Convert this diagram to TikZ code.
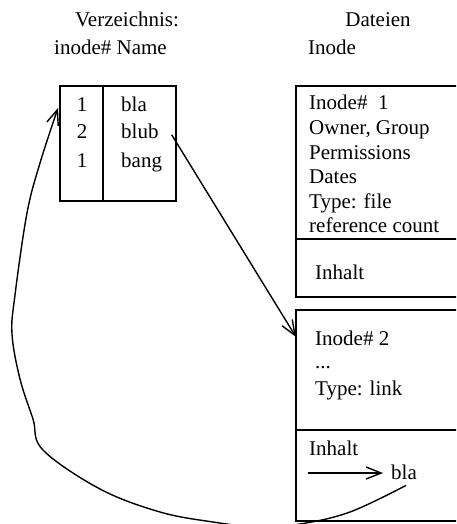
\documentclass[tikz,border=0pt]{standalone}
\usepackage{fontspec}
\setmainfont{Liberation Serif}
\usetikzlibrary{arrows.meta}

\tikzset{
  linie/.style={black,line width=1.4pt},
  pfeil/.style={linie,-{Straight Barb[length=15pt,width=12pt]}},
  txt/.style={inner sep=0pt,anchor=base west},
  zahl/.style={inner sep=0pt,anchor=base},
}

\begin{document}
\begin{tikzpicture}[x=1pt,y=-1pt,font=\fontsize{21}{24.5}\selectfont]
                    \clip (0,0) rectangle (456,524);

                    % Verzeichnis links
                    \node[zahl] (verz) at (127,27){Verzeichnis:};
                    \node[txt] (verzkopf) at (54,55){inode\# Name};
                    \draw[linie] (60,86) rectangle (176,201);
                    \draw[linie] (103,86) -- (103,201);
                    \node[zahl] (nr1) at (82,111){1};
                    \node[zahl] (nr2) at (82,139){2};
                    \node[zahl] (nr3) at (82,167){1};
                    \node[txt] (name1) at (121,111){bla};
                    \node[txt] (name2) at (121,139){blub};
                    \node[txt] (name3) at (121,167){bang};

                    % Dateien rechts
                    \node[zahl] (dat) at (378,27){Dateien};
                    \node[txt] (datkopf) at (308,55){Inode};

                    % Inode 1
                    \draw[linie] (296,86) rectangle (480,297);
                    \draw[linie] (296,239) -- (480,239);
                    \node[txt] (ia) at (309,110){Inode\#\ \ 1};
                    \node[txt] (ib) at (309,134.5){Owner, Group};
                    \node[txt] (ic) at (309,159){Permissions};
                    \node[txt] (id) at (309,183.5){Dates};
                    \node[txt] (ie) at (309,208){Type: file};
                    \node[txt] (if) at (309,232.5){reference count};
                    \node[txt] (inhalt1) at (315,279){Inhalt};

                    % Inode 2
                    \draw[linie] (296,310) rectangle (480,521);
                    \draw[linie] (296,430) -- (480,430);
                    \node[txt] (ja) at (315,345){Inode\# 2};
                    \node[txt] (jb) at (315,368){...};
                    \node[txt] (jc) at (315,395){Type: link};
                    \node[txt] (inhalt2) at (309,455){Inhalt};
                    \node[txt] (ziel) at (391,479){bla};

                    \coordinate (inode2) at (296,337);
                    \coordinate (pstart) at (308,473);
                    \coordinate (verzlinks) at (58,108);

                    % Verweise
                    \draw[pfeil] ([xshift=13pt,yshift=-3pt]name2.east) -- (inode2);
                    \draw[pfeil,shorten >=8pt] (pstart) -- (pstart -| ziel.west);
                    \draw[pfeil] plot[smooth,tension=0.6] coordinates {
                        ([xshift=2pt,yshift=-6pt]ziel.south) (350,512) (300,524) (258,527)
                        (213,522) (160,512) (100,489) (43,450) (33,419) (20,379)
                        (12,334) (15,295) (27,213) (40,163) (verzlinks)};
                \end{tikzpicture}
\end{document}
